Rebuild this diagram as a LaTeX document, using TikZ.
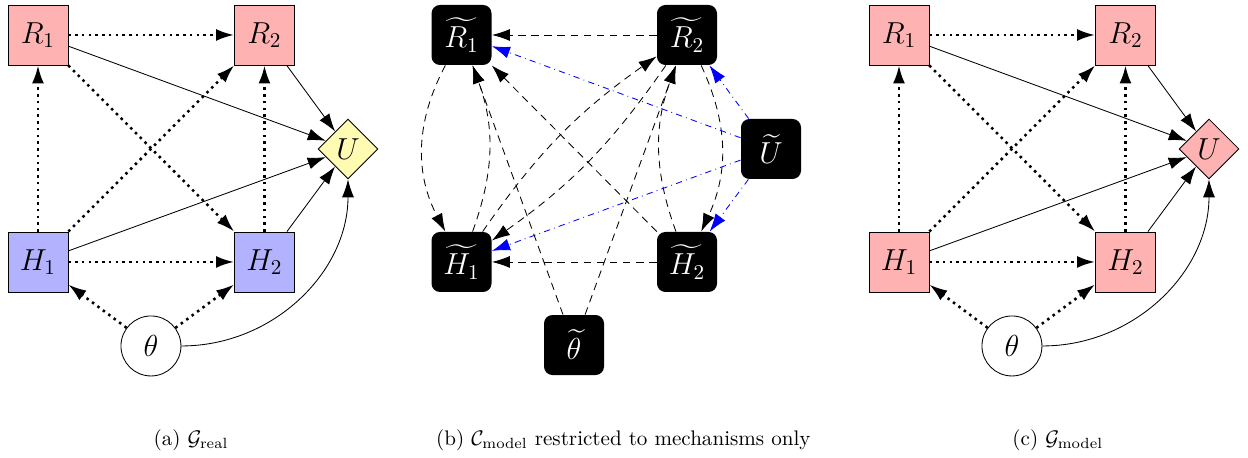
\documentclass[tikz,border=0pt]{standalone}
\usepackage{amsmath,amssymb}
\usepackage{tikz}
\usetikzlibrary{arrows.meta,shapes.geometric}
\usepackage{xcolor}

\begin{document}
\begin{tikzpicture}[font=\Large,>={Latex[length=3mm,width=2mm]},
  rvar/.style={draw,fill=red!30,minimum size=1cm,inner sep=0pt},
  hvar/.style={draw,fill=blue!30,minimum size=1cm,inner sep=0pt},
  uvar/.style={draw,diamond,aspect=1,fill=yellow!30,minimum size=1cm,inner sep=0pt},
  tvar/.style={draw,circle,minimum size=1cm,inner sep=0pt},
  mech/.style={rounded corners,fill=black,text=white,minimum size=1cm,inner sep=0pt},
  infl/.style={very thick,dotted},
  mdash/.style={dash pattern=on 3.6pt off 2.6pt},
  udash/.style={blue,dash dot},
  subcap/.style={font=\normalsize}]
  \useasboundingbox (0,0) rectangle (20.8,-7.633);
  % (a)
  \begin{scope}[shift={(0.633,-0.583)}]
    \node[rvar] (R1a) at (0,0) {$R_1$};
    \node[rvar] (R2a) at (3.775,0) {$R_2$};
    \node[hvar] (H1a) at (0,-3.783) {$H_1$};
    \node[hvar] (H2a) at (3.775,-3.783) {$H_2$};
    \node[uvar] (Ua) at (5.167,-1.9) {$U$};
    \node[tvar] (ta) at (1.883,-5.183) {$\theta$};
  \end{scope}
  \draw[->,infl] (R1a)--(R2a); \draw[->,infl] (H1a)--(R1a); \draw[->,infl] (H1a)--(R2a);
  \draw[->,infl] (R1a)--(H2a); \draw[->,infl] (H2a)--(R2a); \draw[->,infl] (H1a)--(H2a);
  \draw[->,infl] (ta)--(H1a); \draw[->,infl] (ta)--(H2a);
  \draw[->] (R1a)--(Ua); \draw[->] (R2a)--(Ua); \draw[->] (H1a)--(Ua); \draw[->] (H2a)--(Ua);
  \draw[->] (ta) to[out=0,in=-90] (Ua);
  % (b)
  \begin{scope}[shift={(7.692,-0.583)}]
    \node[mech] (R1b) at (0,0) {$\widetilde{R_1}$};
    \node[mech] (R2b) at (3.758,0) {$\widetilde{R_2}$};
    \node[mech] (H1b) at (0,-3.783) {$\widetilde{H_1}$};
    \node[mech] (H2b) at (3.758,-3.783) {$\widetilde{H_2}$};
    \node[mech] (Ub) at (5.158,-1.9) {$\widetilde{U}$};
    \node[mech] (tb) at (1.875,-5.167) {$\widetilde{\theta}$};
  \end{scope}
  \draw[->,mdash] (R2b)--(R1b); \draw[->,mdash] (H2b)--(H1b);
  \draw[->,mdash] (R1b) to[bend right=28] (H1b); \draw[->,mdash] (H1b) to[bend right=20] (R1b);
  \draw[->,mdash] (R2b) to[bend left=25] (H2b); \draw[->,mdash] (H2b) to[bend left=20] (R2b);
  \draw[->,mdash] (H1b) to[bend left=10] (R2b); \draw[->,mdash] (R2b) to[bend left=10] (H1b);
  \draw[->,mdash] (H2b)--(R1b); \draw[->,mdash] (tb)--(R1b); \draw[->,mdash] (tb)--(R2b);
  \draw[->,udash] (Ub)--(R1b); \draw[->,udash] (Ub)--(R2b);
  \draw[->,udash] (Ub)--(H1b); \draw[->,udash] (Ub)--(H2b);
  % (c)
  \begin{scope}[shift={(14.983,-0.583)}]
    \node[rvar] (R1c) at (0,0) {$R_1$};
    \node[rvar] (R2c) at (3.775,0) {$R_2$};
    \node[rvar] (H1c) at (0,-3.783) {$H_1$};
    \node[rvar] (H2c) at (3.775,-3.783) {$H_2$};
    \node[uvar,fill=red!30] (Uc) at (5.167,-1.9) {$U$};
    \node[tvar] (tc) at (1.883,-5.183) {$\theta$};
  \end{scope}
  \draw[->,infl] (R1c)--(R2c); \draw[->,infl] (H1c)--(R1c); \draw[->,infl] (H1c)--(R2c);
  \draw[->,infl] (R1c)--(H2c); \draw[->,infl] (H2c)--(R2c); \draw[->,infl] (H1c)--(H2c);
  \draw[->,infl] (tc)--(H1c); \draw[->,infl] (tc)--(H2c);
  \draw[->] (R1c)--(Uc); \draw[->] (R2c)--(Uc); \draw[->] (H1c)--(Uc); \draw[->] (H2c)--(Uc);
  \draw[->] (tc) to[out=0,in=-90] (Uc);
  % captions
  \node[subcap] (capa) at (3.183,-7.33) {(a) $\mathcal{G}_{\mathrm{real}}$};
  \node[subcap] (capb) at (10.39,-7.33) {(b) $\mathcal{C}_{\mathrm{model}}$ restricted to mechanisms only};
  \node[subcap] (capc) at (17.63,-7.33) {(c) $\mathcal{G}_{\mathrm{model}}$};
\end{tikzpicture}
\end{document}
